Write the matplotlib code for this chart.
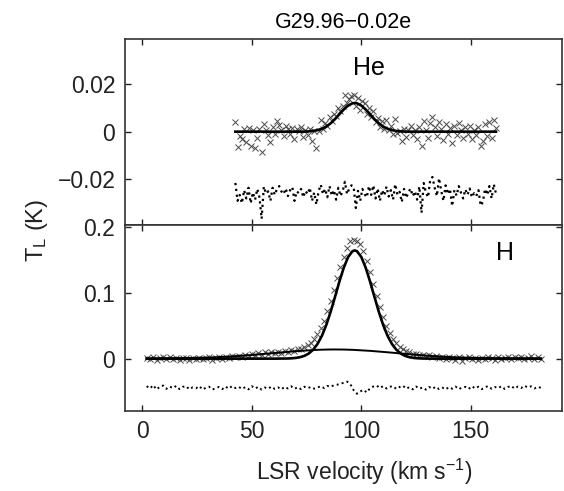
import numpy as np
import matplotlib
matplotlib.use("Agg")
import matplotlib.pyplot as plt
from matplotlib import font_manager

# He line: channels 42.5 .. 161.5 km/s, 1 km/s apart
he_v_start, he_v_step = 42.5, 1.0
he_data = [
    0.0040, -0.0065, -0.0020, -0.0030, 0.0010, -0.0045, 0.0015, -0.0060, 0.0005, -0.0068,
    -0.0025, 0.0012, -0.0085, 0.0030, 0.0008, -0.0012, -0.0042, 0.0020, -0.0010, 0.0045,
    0.0028, 0.0005, -0.0018, 0.0022, 0.0010, -0.0008, 0.0015, -0.0030, 0.0012, 0.0003,
    0.0018, -0.0022, 0.0006, -0.0012, 0.0010, -0.0038, 0.0002, -0.0070, 0.0004, 0.0048,
    0.0010, 0.0035, 0.0025, 0.0060, 0.0045, 0.0072, 0.0065, 0.0100, 0.0085, 0.0108,
    0.0152, 0.0118, 0.0135, 0.0150, 0.0155, 0.0108, 0.0140, 0.0092, 0.0128, 0.0120,
    0.0075, 0.0098, 0.0060, 0.0088, 0.0040, 0.0058, 0.0020, 0.0045, 0.0010, 0.0048,
    0.0005, 0.0022, -0.0010, 0.0055, -0.0005, 0.0002, -0.0040, 0.0012, -0.0022, 0.0008,
    0.0025, -0.0015, 0.0005, -0.0030, 0.0018, -0.0060, 0.0045, 0.0008, -0.0025, 0.0038,
    0.0060, 0.0020, -0.0018, 0.0040, 0.0012, -0.0035, 0.0030, -0.0008, 0.0015, -0.0048,
    0.0022, -0.0012, 0.0035, 0.0005, -0.0025, 0.0018, -0.0010, 0.0025, -0.0030, 0.0008,
    -0.0015, 0.0020, -0.0062, -0.0040, 0.0030, -0.0020, 0.0042, -0.0028, 0.0048, 0.0015,
]
he_resid = [
    -0.0215, -0.0290, -0.0265, -0.0300, -0.0245, -0.0280, -0.0235, -0.0300, -0.0255, -0.0285,
    -0.0240, -0.0275, -0.0365, -0.0230, -0.0260, -0.0250, -0.0290, -0.0235, -0.0265, -0.0240,
    -0.0228, -0.0250, -0.0262, -0.0238, -0.0270, -0.0245, -0.0232, -0.0290, -0.0250, -0.0258,
    -0.0240, -0.0275, -0.0248, -0.0262, -0.0235, -0.0290, -0.0255, -0.0305, -0.0250, -0.0222,
    -0.0262, -0.0240, -0.0275, -0.0228, -0.0268, -0.0245, -0.0285, -0.0235, -0.0270, -0.0250,
    -0.0210, -0.0262, -0.0238, -0.0225, -0.0230, -0.0320, -0.0248, -0.0290, -0.0240, -0.0262,
    -0.0275, -0.0228, -0.0265, -0.0225, -0.0280, -0.0238, -0.0290, -0.0245, -0.0268, -0.0230,
    -0.0272, -0.0245, -0.0285, -0.0220, -0.0265, -0.0252, -0.0295, -0.0240, -0.0278, -0.0255,
    -0.0238, -0.0270, -0.0250, -0.0285, -0.0230, -0.0340, -0.0215, -0.0255, -0.0275, -0.0200,
    -0.0190, -0.0235, -0.0270, -0.0195, -0.0248, -0.0290, -0.0225, -0.0262, -0.0240, -0.0312,
    -0.0245, -0.0268, -0.0228, -0.0255, -0.0280, -0.0242, -0.0265, -0.0238, -0.0275, -0.0258,
    -0.0270, -0.0245, -0.0310, -0.0295, -0.0240, -0.0265, -0.0228, -0.0280, -0.0220, -0.0260,
]
he_fit_v = [42.5, 74, 76, 78, 80, 82, 84, 86, 88, 90, 92, 94, 96, 97,
            98, 100, 102, 104, 106, 108, 110, 112, 114, 116, 118, 120, 161.5]
he_fit_t = [0.0, 0.0, 0.00013, 0.0003, 0.00063, 0.00121, 0.00214, 0.0035, 0.00525,
            0.00728, 0.0093, 0.01095, 0.01188, 0.0120, 0.01188, 0.01095, 0.0093,
            0.00728, 0.00525, 0.0035, 0.00214, 0.00121, 0.00063, 0.0003, 0.00013,
            0.0, 0.0]

# H line: channels 2 .. 182 km/s, 1.5 km/s apart
h_v_start, h_v_step = 2.0, 1.5
h_data = [
    0.0012, -0.0008, 0.0020, -0.0025, 0.0005, 0.0018, -0.0010, 0.0022, -0.0005, 0.0010,
    -0.0015, 0.0008, 0.0003, -0.0020, 0.0012, -0.0004, 0.0015, -0.0010, 0.0006, 0.0020,
    -0.0018, 0.0010, 0.0025, -0.0008, 0.0030, 0.0015, 0.0040, 0.0022, 0.0045, 0.0030,
    0.0055, 0.0038, 0.0070, 0.0052, 0.0080, 0.0062, 0.0095, 0.0078, 0.0100, 0.0088,
    0.0105, 0.0092, 0.0118, 0.0102, 0.0125, 0.0118, 0.0140, 0.0150, 0.0175, 0.0205,
    0.0245, 0.0300, 0.0372, 0.0465, 0.0580, 0.0720, 0.0878, 0.1045, 0.1225, 0.1400,
    0.1545, 0.1690, 0.1790, 0.1815, 0.1800, 0.1745, 0.1635, 0.1490, 0.1320, 0.1140,
    0.0955, 0.0790, 0.0635, 0.0500, 0.0390, 0.0300, 0.0232, 0.0178, 0.0140, 0.0112,
    0.0095, 0.0070, 0.0078, 0.0048, 0.0060, 0.0035, 0.0050, 0.0028, 0.0045, 0.0015,
    0.0030, -0.0005, 0.0025, 0.0010, -0.0020, 0.0018, -0.0030, 0.0005, 0.0022, -0.0012,
    0.0008, -0.0025, 0.0015, -0.0008, 0.0020, 0.0003, -0.0015, 0.0025, -0.0005, 0.0012,
    0.0030, -0.0010, 0.0018, 0.0005, 0.0028, -0.0012, 0.0015, 0.0035, -0.0005, 0.0020,
    0.0002,
]
h_resid = [
    -0.0420, -0.0455, -0.0405, -0.0470, -0.0430, -0.0410, -0.0460, -0.0425, -0.0450, -0.0415,
    -0.0465, -0.0430, -0.0420, -0.0468, -0.0438, -0.0452, -0.0418, -0.0470, -0.0445, -0.0428,
    -0.0472, -0.0450, -0.0432, -0.0465, -0.0425, -0.0458, -0.0418, -0.0448, -0.0428, -0.0462,
    -0.0435, -0.0468, -0.0420, -0.0455, -0.0430, -0.0472, -0.0440, -0.0458, -0.0425, -0.0462,
    -0.0438, -0.0468, -0.0430, -0.0455, -0.0422, -0.0460, -0.0435, -0.0465, -0.0428, -0.0450,
    -0.0432, -0.0458, -0.0440, -0.0420, -0.0448, -0.0415, -0.0430, -0.0405, -0.0398, -0.0380,
    -0.0370, -0.0350, -0.0390, -0.0480, -0.0535, -0.0500, -0.0475, -0.0515, -0.0450, -0.0425,
    -0.0410, -0.0448, -0.0418, -0.0455, -0.0428, -0.0420, -0.0462, -0.0432, -0.0412, -0.0458,
    -0.0435, -0.0468, -0.0425, -0.0458, -0.0440, -0.0472, -0.0432, -0.0460, -0.0428, -0.0465,
    -0.0442, -0.0470, -0.0435, -0.0458, -0.0425, -0.0466, -0.0440, -0.0430, -0.0462, -0.0420,
    -0.0455, -0.0428, -0.0465, -0.0435, -0.0418, -0.0460, -0.0432, -0.0450, -0.0420, -0.0462,
    -0.0432, -0.0415, -0.0458, -0.0425, -0.0448, -0.0412, -0.0440, -0.0422, -0.0455, -0.0428,
    -0.0445,
]
# narrow component of the fit
h_narrow_v = [2, 60, 66, 68, 70, 72, 74, 76, 78, 80, 82, 84, 86, 88, 90, 92, 94, 96, 97,
              98, 100, 102, 104, 106, 108, 110, 112, 114, 116, 118, 120, 122, 124, 126,
              128, 130, 134, 182]
h_narrow_t = [0.0, 0.0, 0.0002, 0.00049, 0.00106, 0.00218, 0.00424, 0.0078, 0.01357,
              0.02233, 0.03474, 0.05124, 0.07143, 0.09422, 0.11756, 0.13873, 0.15503,
              0.16391, 0.165, 0.16391, 0.15503, 0.13873, 0.11756, 0.09422, 0.07143,
              0.05124, 0.03474, 0.02233, 0.01357, 0.0078, 0.00424, 0.00218, 0.00106,
              0.00049, 0.0002, 0.00009, 0.0, 0.0]
# broad component of the fit
h_broad_v = [2, 10, 20, 30, 40, 50, 60, 70, 80, 84, 88, 92, 96, 104, 112, 120, 130,
             140, 150, 160, 170, 182]
h_broad_t = [0.00013, 0.00029, 0.00073, 0.00164, 0.00322, 0.00557, 0.00849, 0.01139,
             0.01344, 0.01386, 0.0140, 0.01386, 0.01344, 0.01189, 0.0097, 0.00729,
             0.00455, 0.0025, 0.00121, 0.00051, 0.00019, 0.00005]

xticks = [0, 50, 100, 150]
he_yticks = [-0.02, 0, 0.02]
he_yticklabels = ["\u22120.02", "0", "0.02"]
h_yticks = [0, 0.1, 0.2]
h_yticklabels = ["0", "0.1", "0.2"]


def main():
    names = {f.name for f in font_manager.fontManager.ttflist}
    family = "Liberation Sans" if "Liberation Sans" in names else "DejaVu Sans"
    plt.rcParams["font.family"] = [family, "DejaVu Sans"]
    plt.rcParams["mathtext.fontset"] = "custom"
    plt.rcParams["mathtext.rm"] = family
    plt.rcParams["mathtext.it"] = family

    he_v = he_v_start + he_v_step * np.arange(len(he_data))
    h_v = h_v_start + h_v_step * np.arange(len(h_data))

    fig = plt.figure(figsize=(5.64, 4.91), dpi=100)
    ax1 = fig.add_axes([0.2216, 0.5418, 0.7743, 0.3782])
    ax2 = fig.add_axes([0.2216, 0.1635, 0.7743, 0.3783])

    mk = dict(ls="none", marker="x", ms=4.8, mew=0.7, color="#4a4a4a")

    ax1.plot(he_v, he_data, **mk)
    ax1.plot(he_fit_v, he_fit_t, color="black", lw=1.9)
    ax1.plot(he_v, he_resid, color="black", lw=1.6, ls=":")
    ax1.text(103.4, 0.0266, "He", ha="center", va="center", fontsize=18)

    ax2.plot(h_v, h_data, **mk)
    ax2.plot(h_broad_v, h_broad_t, color="black", lw=1.4)
    ax2.plot(h_narrow_v, h_narrow_t, color="black", lw=1.9)
    ax2.plot(h_v, h_resid, color="black", lw=1.4, ls=":")
    ax2.text(165.6, 0.1606, "H", ha="center", va="center", fontsize=18)

    ax1.set_ylim(-0.0391, 0.0387)
    ax2.set_ylim(-0.0794, 0.2038)
    ax1.set_yticks(he_yticks)
    ax1.set_yticklabels(he_yticklabels)
    ax2.set_yticks(h_yticks)
    ax2.set_yticklabels(h_yticklabels)

    for ax in (ax1, ax2):
        ax.set_xlim(-7.9, 191.5)
        ax.set_xticks(xticks)
        ax.tick_params(direction="in", length=4, width=1.0, top=True, right=True,
                       labelsize=16.5, colors="#222222", pad=7)
        for s in ax.spines.values():
            s.set_linewidth(1.2)
            s.set_color("#333333")
    ax1.tick_params(labelbottom=False)

    ax1.set_title("G29.96\u22120.02e", fontsize=15.5, pad=8)
    fig.text(364 / 564, 1 - 472 / 491, "LSR velocity (km s$^{-1}$)",
             ha="center", va="center", fontsize=16.5, color="#222222")
    fig.text(37 / 564, 1 - 230 / 491, "T$_{\\rm L}$ (K)", rotation=90,
             ha="center", va="center", fontsize=17, color="#222222")

    fig.savefig("out.png", dpi=100)


if __name__ == "__main__":
    main()
